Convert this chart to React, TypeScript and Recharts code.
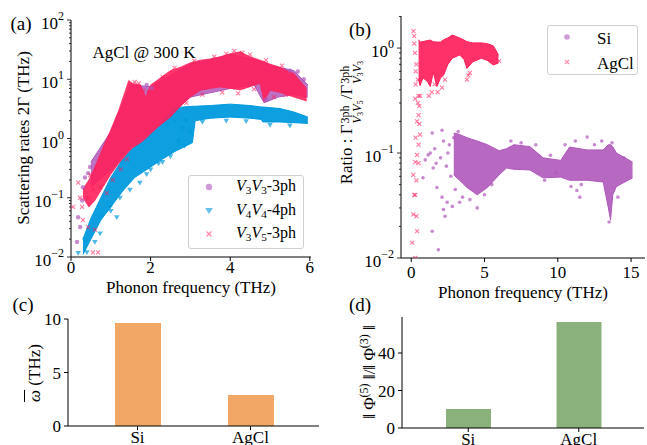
import React from "react";
import { ComposedChart, BarChart, Area, Scatter, Bar, XAxis, YAxis } from "recharts";

const FONT = "'Liberation Serif', 'DejaVu Serif', serif";
const RED = "#ff1f5b";
const BLUE = "#009ade";
const PURPLE = "#af58ba";
const ORANGE = "#f2a766";
const GREEN = "#8ab17b";

// (a) dense cores of the scattering-rate clouds, [freq (THz), low, high]
const v3v3Band = [
  [0.5, 0.15, 0.4], [1.0, 0.3, 1.3], [1.5, 0.7, 8], [2.0, 1.3, 7.5],
  [3.0, 5, 18], [4.0, 7, 26], [4.6, 8, 22], [4.85, 4.0, 19],
  [5.2, 5, 16], [5.6, 5.5, 14], [5.95, 5, 8],
];
const v4v4Band = [
  [0.3, 0.011, 0.02], [0.5, 0.02, 0.045], [0.75, 0.042, 0.1], [1.0, 0.07, 0.22],
  [1.3, 0.13, 0.45], [1.6, 0.22, 0.75], [2.0, 0.33, 1.2], [2.3, 0.45, 2.0],
  [2.6, 0.6, 3.3], [3.05, 0.85, 3.5], [3.12, 2.0, 3.5], [3.5, 2.2, 3.6],
  [4.0, 2.3, 3.8], [4.5, 2.2, 3.6], [4.78, 2.1, 3.4], [4.82, 1.9, 3.4],
  [5.25, 1.9, 3.2], [5.6, 1.85, 2.8], [5.95, 1.8, 2.3],
];
const v3v5Band = [
  [0.3, 0.1, 0.14], [0.45, 0.07, 0.2], [0.6, 0.09, 0.33], [0.8, 0.15, 0.7],
  [1.0, 0.25, 1.4], [1.2, 0.38, 3.0], [1.35, 0.5, 6.0], [1.45, 0.6, 9.5],
  [1.55, 0.7, 8.5], [1.75, 0.85, 8.0], [1.88, 1.0, 5.0], [2.0, 1.2, 8.0],
  [2.2, 1.6, 10], [2.5, 2.3, 14], [2.75, 3.5, 16], [3.0, 5.0, 19],
  [3.25, 6.5, 21], [3.5, 7.0, 22], [3.75, 7.4, 24], [4.0, 7.0, 27],
  [4.25, 6.6, 29], [4.5, 7.5, 24], [4.75, 8.5, 21], [4.85, 4.2, 20],
  [5.0, 6.5, 18], [5.25, 6.0, 16], [5.6, 5.0, 12.5], [5.92, 4.3, 7.0],
];

// (a) loose points around the cores, [freq, rate]
const v3v3Pts = [
  [0.15, 0.018], [0.18, 0.047], [0.23, 0.032], [0.28, 0.09], [0.3, 0.15],
  [0.35, 0.22], [0.43, 0.26], [0.48, 0.33], [1.9, 8], [2.03, 7.1],
  [5.7, 13.5], [5.85, 10], [5.5, 14], [4.9, 4.5],
];
const v4v4Pts = [
  [0.18, 0.0117], [0.35, 0.019], [0.48, 0.029], [0.73, 0.047], [0.98, 0.07],
  [1.23, 0.1], [1.48, 0.136], [1.73, 0.18], [1.15, 0.047], [0.73, 0.025],
  [2.2, 0.38], [2.5, 0.5], [2.7, 0.9], [2.8, 1.5], [2.9, 2.0], [3.0, 1.3],
  [2.4, 1.7], [1.9, 0.25], [3.3, 1.9], [3.9, 2.0], [4.4, 1.95], [5.0, 1.7],
  [5.5, 1.65], [2.0, 0.3], [2.3, 0.4], [1.0, 0.06], [0.6, 0.018], [0.4, 0.012],
  [2.6, 2.0], [2.85, 0.75],
];
const v3v5Pts = [
  [0.18, 0.18], [0.28, 0.07], [0.05, 0.07], [0.43, 0.032], [0.6, 0.029],
  [0.55, 0.012], [0.68, 0.012], [0.3, 0.042], [0.23, 0.1], [0.43, 0.1],
  [0.55, 0.136], [0.73, 0.15], [0.48, 0.24], [0.65, 0.33], [1.6, 9],
  [1.7, 8.5], [4.1, 30], [4.3, 28], [5.1, 5], [5.4, 5.5], [1.4, 0.45],
  [2.3, 11], [2.6, 15.5], [3.1, 20.5], [3.6, 24], [3.9, 27], [4.5, 26],
  [4.9, 21], [5.3, 17], [3.3, 5.5], [3.8, 6], [4.2, 5.8], [4.6, 6.8],
  [2.9, 4.0], [1.05, 0.2], [1.25, 0.3], [0.9, 0.12], [1.95, 6], [1.82, 6.5],
];

// (b) ratio clouds, [freq, low, high]
const agclBand = [
  [0.5, 0.5, 1.2], [0.6, 0.44, 1.14], [0.8, 0.52, 1.15], [1.1, 0.48, 1.18],
  [1.3, 0.43, 1.19], [1.5, 0.59, 1.15], [1.75, 0.43, 1.14], [2.0, 0.52, 1.14],
  [2.2, 0.55, 1.2], [2.5, 0.7, 1.25], [2.8, 0.8, 1.33], [3.3, 0.86, 1.25],
  [3.6, 0.78, 1.19], [3.8, 0.64, 1.15], [4.2, 0.74, 1.12], [4.8, 0.8, 1.12],
  [5.2, 0.76, 1.1], [5.6, 0.69, 1.05], [5.95, 0.72, 0.86],
];
const siBand = [
  [2.9, 0.062, 0.155], [3.3, 0.055, 0.15], [3.8, 0.047, 0.14], [4.5, 0.04, 0.13],
  [5.2, 0.047, 0.12], [6.0, 0.062, 0.105], [6.5, 0.072, 0.11], [7.0, 0.07, 0.12],
  [8.1, 0.069, 0.115], [9.0, 0.058, 0.09], [10.2, 0.059, 0.085], [10.8, 0.055, 0.114],
  [12.0, 0.055, 0.107], [13.1, 0.053, 0.107], [13.45, 0.03, 0.12], [13.6, 0.023, 0.12],
  [13.75, 0.04, 0.115], [14.0, 0.048, 0.1], [15.1, 0.058, 0.082],
];
const agclPts = [
  [0.15, 1.45], [0.2, 1.3], [0.27, 0.33], [0.5, 0.23], [0.6, 0.15], [0.4, 0.096],
  [0.27, 0.082], [0.14, 0.062], [0.27, 0.04], [0.14, 0.026], [0.4, 0.018],
  [0.07, 0.014], [0.27, 0.01], [0.45, 0.3], [0.55, 0.19], [0.35, 0.055],
  [0.5, 0.12], [0.3, 0.6], [0.25, 0.9], [0.3, 0.45], [0.5, 0.35], [0.45, 0.5],
  [0.2, 1.1], [0.35, 0.7], [0.55, 0.28], [0.6, 0.35], [0.4, 0.2], [0.3, 0.14],
  [0.5, 0.08], [0.35, 0.025], [0.2, 0.04], [1.4, 0.38], [1.8, 0.38], [3.9, 0.55],
  [6.0, 0.75], [1.2, 0.35], [1.6, 0.45], [2.1, 0.42], [2.3, 0.5], [3.8, 0.5],
  [4.0, 0.58],
];
const siPts = [
  [1.43, 0.155], [2.1, 0.165], [0.95, 0.086], [1.5, 0.072], [0.8, 0.058],
  [1.75, 0.047], [2.1, 0.038], [2.45, 0.034], [2.2, 0.029], [2.3, 0.025],
  [2.8, 0.031], [3.3, 0.034], [4.5, 0.03], [1.43, 0.018], [1.85, 0.012],
  [1.6, 0.11], [1.16, 0.096], [2.5, 0.1], [2.2, 0.13], [12.0, 0.142],
  [11.5, 0.038], [11.3, 0.044], [14.1, 0.038], [9.1, 0.055], [6.8, 0.13],
  [3.0, 0.045], [3.5, 0.038], [4.0, 0.036], [5.0, 0.04], [5.5, 0.05],
  [2.7, 0.06], [2.4, 0.075], [2.0, 0.09], [1.7, 0.08], [1.3, 0.1],
  [2.6, 0.12], [2.9, 0.14], [3.2, 0.16], [7.5, 0.125], [8.5, 0.12],
  [9.5, 0.095], [10.5, 0.12], [11.2, 0.13], [12.5, 0.12], [13.0, 0.13],
  [13.7, 0.125], [14.5, 0.09], [10.9, 0.048], [11.6, 0.05], [9.9, 0.065],
  [13.5, 0.022],
];

// (c), (d)
const materials = ["Si", "AgCl"];
const meanFreq = [9.63, 2.9];
const phiRatio = [10.1, 56.5];

const bandRows = (bands: Record<string, number[][]>) =>
  Object.entries(bands)
    .flatMap(([key, arr]) => arr.map(([f, lo, hi]) => ({ f, [key]: [lo, hi] })))
    .sort((p: any, q: any) => p.f - q.f);
const pts = (arr: number[][]) => arr.map(([f, v]) => ({ f, v }));

const aRows = bandRows({ v33: v3v3Band, v44: v4v4Band, v35: v3v5Band });
const bRows = bandRows({ si: siBand, agcl: agclBand });
const cRows = materials.map((name, i) => ({ name, v: meanFreq[i] }));
const dRows = materials.map((name, i) => ({ name, v: phiRatio[i] }));

const aMajor = [0.01, 0.1, 1, 10, 100];
const aMinor = [
  0.02, 0.03, 0.04, 0.05, 0.06, 0.07, 0.08, 0.09,
  0.2, 0.3, 0.4, 0.5, 0.6, 0.7, 0.8, 0.9,
  2, 3, 4, 5, 6, 7, 8, 9, 20, 30, 40, 50, 60, 70, 80, 90,
];
const bMajor = [0.01, 0.1, 1];
const bMinor = [
  0.02, 0.03, 0.04, 0.05, 0.06, 0.07, 0.08, 0.09,
  0.2, 0.3, 0.4, 0.5, 0.6, 0.7, 0.8, 0.9, 2,
];

const tickStyle = { fontSize: 17, fill: "#000", fontFamily: FONT };

// log tick: draws its own tick mark so minor ticks can be shorter
const LogTick = (props: any) => {
  const { x, y, payload } = props;
  const v = payload.value;
  const e = Math.round(Math.log10(v));
  const major = Math.abs(Math.log10(v) - e) < 1e-6;
  const ax = x + 7;
  return (
    <g>
      <line x1={ax} x2={ax - (major ? 4 : 2)} y1={y} y2={y} stroke="#000" strokeWidth={0.8} />
      {major && (
        <text x={x} y={y + 9} textAnchor="end" fill="#000" fontFamily={FONT} fontSize={17}>
          <tspan>10</tspan>
          <tspan dy={-9} fontSize={12}>{e < 0 ? "\u2212" + -e : String(e)}</tspan>
        </text>
      )}
    </g>
  );
};

const Dot = (color: string, r: number) => (p: any) =>
  <circle cx={p.cx} cy={p.cy} r={r} fill={color} fillOpacity={0.7} />;
const Tri = (p: any) => (
  <path
    d={`M${p.cx - 2.8},${p.cy - 2} L${p.cx + 2.8},${p.cy - 2} L${p.cx},${p.cy + 2.8} Z`}
    fill={BLUE}
    fillOpacity={0.7}
  />
);
const Cross = (p: any) => (
  <path
    d={`M${p.cx - 2},${p.cy - 2}L${p.cx + 2},${p.cy + 2}M${p.cx - 2},${p.cy + 2}L${p.cx + 2},${p.cy - 2}`}
    stroke={RED}
    strokeOpacity={0.6}
    strokeWidth={1.1}
  />
);

const abs = (s: any): React.CSSProperties => ({ position: "absolute", whiteSpace: "nowrap", ...s });
const rot = (x: number, y: number, size = 17): React.CSSProperties =>
  abs({ left: x, top: y, fontSize: size, transform: "translate(-50%,-50%) rotate(-90deg)" });
const ctr = (x: number, y: number, size = 17): React.CSSProperties =>
  abs({ left: x, top: y, fontSize: size, lineHeight: 1, transform: "translate(-50%,-50%)" });

const sub = (n: string) => <sub style={{ fontSize: "0.7em", verticalAlign: "-0.25em", lineHeight: 0 }}>{n}</sub>;
const VV = (a: string, b: string) => (
  <>
    <i>V</i>{sub(a)}<i>V</i>{sub(b)}
  </>
);
// stacked super/subscript, as mathtext draws Γ^{3ph}_{V3V5}
const Stack = ({ top, bottom }: { top: React.ReactNode; bottom: React.ReactNode }) => (
  <span
    style={{
      display: "inline-block",
      fontSize: 12,
      lineHeight: "12px",
      verticalAlign: "-9px",
      margin: "0 1px",
      textAlign: "left",
    }}
  >
    <span style={{ display: "block" }}>{top}</span>
    <span style={{ display: "block" }}>{bottom}</span>
  </span>
);

const legendRow = (top: number, body: React.ReactNode) => (
  <div style={abs({ left: 236, top, fontSize: 16, lineHeight: "20px" })}>{body}</div>
);

export default function App() {
  return (
    <div
      style={{
        position: "absolute",
        left: 0,
        top: 0,
        width: 647,
        height: 445,
        overflow: "hidden",
        background: "#fff",
        fontFamily: FONT,
        color: "#000",
      }}
    >
      {/* (a) scattering rates */}
      <div style={abs({ left: 0, top: 0 })}>
        <ComposedChart width={330} height={300} data={aRows} margin={{ top: 20, right: 19, left: 21, bottom: 18 }}>
          <XAxis xAxisId="b" dataKey="f" type="number" domain={[0, 6.03]} ticks={[0, 2, 4, 6]}
            allowDataOverflow height={25} tickSize={4} tickMargin={0} tick={tickStyle} stroke="#000" />
          <XAxis xAxisId="t" orientation="top" type="number" domain={[0, 1]} height={0}
            tick={false} tickLine={false} stroke="#000" />
          <YAxis yAxisId="l" type="number" scale="log" domain={[0.01, 100]} allowDataOverflow
            ticks={[...aMajor, ...aMinor]} interval={0} tick={<LogTick />} tickLine={false}
            width={50} tickSize={4} tickMargin={3} stroke="#000" />
          <YAxis yAxisId="r" orientation="right" type="number" domain={[0, 1]} width={0}
            tick={false} tickLine={false} stroke="#000" />

          <Area xAxisId="b" yAxisId="l" dataKey="v33" type="linear" connectNulls fill={PURPLE}
            fillOpacity={0.85} stroke={PURPLE} strokeWidth={1} dot={false} activeDot={false} isAnimationActive={false} />
          <Scatter xAxisId="b" yAxisId="l" data={pts(v3v3Pts)} dataKey="v" shape={Dot(PURPLE, 2.2)} isAnimationActive={false} />

          <Area xAxisId="b" yAxisId="l" dataKey="v44" type="linear" connectNulls fill={BLUE}
            fillOpacity={0.95} stroke={BLUE} strokeWidth={1} dot={false} activeDot={false} isAnimationActive={false} />
          <Scatter xAxisId="b" yAxisId="l" data={pts(v4v4Pts)} dataKey="v" shape={Tri} isAnimationActive={false} />

          <Area xAxisId="b" yAxisId="l" dataKey="v35" type="linear" connectNulls fill={RED}
            fillOpacity={0.9} stroke={RED} strokeWidth={1} strokeOpacity={0.7} dot={false} activeDot={false} isAnimationActive={false} />
          <Scatter xAxisId="b" yAxisId="l" data={pts(v3v5Pts)} dataKey="v" shape={Cross} isAnimationActive={false} />
        </ComposedChart>
      </div>

      {/* (b) ratio */}
      <div style={abs({ left: 330, top: 0 })}>
        <ComposedChart width={317} height={300} data={bRows} margin={{ top: 16, right: 2, left: 21, bottom: 17 }}>
          <XAxis xAxisId="b" dataKey="f" type="number" domain={[-0.7, 15.95]} ticks={[0, 5, 10, 15]}
            allowDataOverflow height={25} tickSize={4} tickMargin={4} tick={tickStyle} stroke="#000" />
          <XAxis xAxisId="t" orientation="top" type="number" domain={[0, 1]} height={0}
            tick={false} tickLine={false} stroke="#000" />
          <YAxis yAxisId="l" type="number" scale="log" domain={[0.01, 2.02]} allowDataOverflow
            ticks={[...bMajor, ...bMinor]} interval={0} tick={<LogTick />} tickLine={false}
            width={50} tickSize={4} tickMargin={3} stroke="#000" />
          <YAxis yAxisId="r" orientation="right" type="number" domain={[0, 1]} width={0}
            tick={false} tickLine={false} stroke="#000" />

          <Area xAxisId="b" yAxisId="l" dataKey="si" type="linear" connectNulls fill={PURPLE}
            fillOpacity={0.9} stroke={PURPLE} strokeWidth={1} dot={false} activeDot={false} isAnimationActive={false} />
          <Scatter xAxisId="b" yAxisId="l" data={pts(siPts)} dataKey="v" shape={Dot(PURPLE, 1.8)} isAnimationActive={false} />

          <Area xAxisId="b" yAxisId="l" dataKey="agcl" type="linear" connectNulls fill={RED}
            fillOpacity={0.92} stroke={RED} strokeWidth={1} dot={false} activeDot={false} isAnimationActive={false} />
          <Scatter xAxisId="b" yAxisId="l" data={pts(agclPts)} dataKey="v" shape={Cross} isAnimationActive={false} />
        </ComposedChart>
      </div>

      {/* (c) mean frequency */}
      <div style={abs({ left: 0, top: 300 })}>
        <BarChart width={330} height={160} data={cRows} margin={{ top: 19, right: 11, left: 18, bottom: 4 }}>
          <XAxis xAxisId="b" dataKey="name" padding={{ left: 13, right: 12 }} height={30}
            tickSize={4} tickMargin={1} tick={tickStyle} stroke="#000" />
          <XAxis xAxisId="t" orientation="top" type="number" domain={[0, 1]} height={0}
            tick={false} tickLine={false} stroke="#000" />
          <YAxis yAxisId="l" type="number" domain={[0, 10]} ticks={[0, 5, 10]} width={50}
            tickSize={4} tickMargin={3} tick={tickStyle} stroke="#000" />
          <YAxis yAxisId="r" orientation="right" type="number" domain={[0, 1]} width={0}
            tick={false} tickLine={false} stroke="#000" />
          <Bar xAxisId="b" yAxisId="l" dataKey="v" fill={ORANGE} barSize={46} isAnimationActive={false} />
        </BarChart>
      </div>

      {/* (d) force-constant norm ratio */}
      <div style={abs({ left: 330, top: 300 })}>
        <BarChart width={317} height={160} data={dRows} margin={{ top: 17, right: 3, left: 22, bottom: 2 }}>
          <XAxis xAxisId="b" dataKey="name" padding={{ left: 11, right: 10 }} height={30}
            tickSize={4} tickMargin={1} tick={tickStyle} stroke="#000" />
          <XAxis xAxisId="t" orientation="top" type="number" domain={[0, 1]} height={0}
            tick={false} tickLine={false} stroke="#000" />
          <YAxis yAxisId="l" type="number" domain={[0, 59.2]} ticks={[0, 20, 40]} width={50}
            tickSize={4} tickMargin={3} tick={tickStyle} stroke="#000" />
          <YAxis yAxisId="r" orientation="right" type="number" domain={[0, 1]} width={0}
            tick={false} tickLine={false} stroke="#000" />
          <Bar xAxisId="b" yAxisId="l" dataKey="v" fill={GREEN} barSize={45} isAnimationActive={false} />
        </BarChart>
      </div>

      {/* panel letters */}
      <div style={ctr(21, 23, 19)}>(a)</div>
      <div style={ctr(360, 29, 19)}>(b)</div>
      <div style={ctr(23, 304, 19)}>(c)</div>
      <div style={ctr(360, 304, 19)}>(d)</div>

      {/* axis titles */}
      <div style={ctr(191, 287)}>Phonon frequency (THz)</div>
      <div style={ctr(523, 292)}>Phonon frequency (THz)</div>
      <div style={rot(24, 138)}>Scattering rates 2Γ (THz)</div>
      <div style={rot(350, 122)}>
        Ratio : Γ<Stack top="3ph" bottom={VV("3", "5")} />/Γ<Stack top="3ph" bottom={VV("3", "3")} />
      </div>
      <div style={rot(35, 373)}>
        <span style={{ textDecoration: "overline" }}><i>ω</i></span> (THz)
      </div>
      <div style={rot(370, 372)}>
        ‖ Φ<sup style={{ fontSize: 12, lineHeight: 0 }}>(5)</sup> ‖/‖ Φ<sup style={{ fontSize: 12, lineHeight: 0 }}>(3)</sup> ‖
      </div>

      <div style={ctr(144, 52)}>AgCl @ 300 K</div>

      {/* legend (a) */}
      <div
        style={abs({
          left: 188, top: 175, width: 114, height: 72, border: "1px solid #d0d0d0",
          borderRadius: 3, background: "rgba(255,255,255,0.85)",
        })}
      />
      <svg style={abs({ left: 200, top: 178 })} width={20} height={66}>
        <circle cx={9} cy={9} r={3.2} fill={PURPLE} fillOpacity={0.6} />
        <path d="M5.2,30 L12.8,30 L9,36 Z" fill={BLUE} fillOpacity={0.6} />
        <path d="M6.5,53.5 L11.5,58.5 M6.5,58.5 L11.5,53.5" stroke={RED} strokeOpacity={0.55} strokeWidth={1.2} />
      </svg>
      {legendRow(176, <>{VV("3", "3")}-3ph</>)}
      {legendRow(200, <>{VV("4", "4")}-4ph</>)}
      {legendRow(223, <>{VV("3", "5")}-3ph</>)}

      {/* legend (b) */}
      <div
        style={abs({
          left: 547, top: 25, width: 89, height: 48, border: "1px solid #d0d0d0",
          borderRadius: 3, background: "rgba(255,255,255,0.85)",
        })}
      />
      <svg style={abs({ left: 560, top: 28 })} width={16} height={44}>
        <circle cx={7} cy={9} r={2.8} fill={PURPLE} fillOpacity={0.6} />
        <path d="M5,32 L9,36 M5,36 L9,32" stroke={RED} strokeOpacity={0.5} strokeWidth={1.1} />
      </svg>
      <div style={abs({ left: 597, top: 26, fontSize: 17, lineHeight: "25px" })}>
        <div>Si</div>
        <div>AgCl</div>
      </div>
    </div>
  );
}
